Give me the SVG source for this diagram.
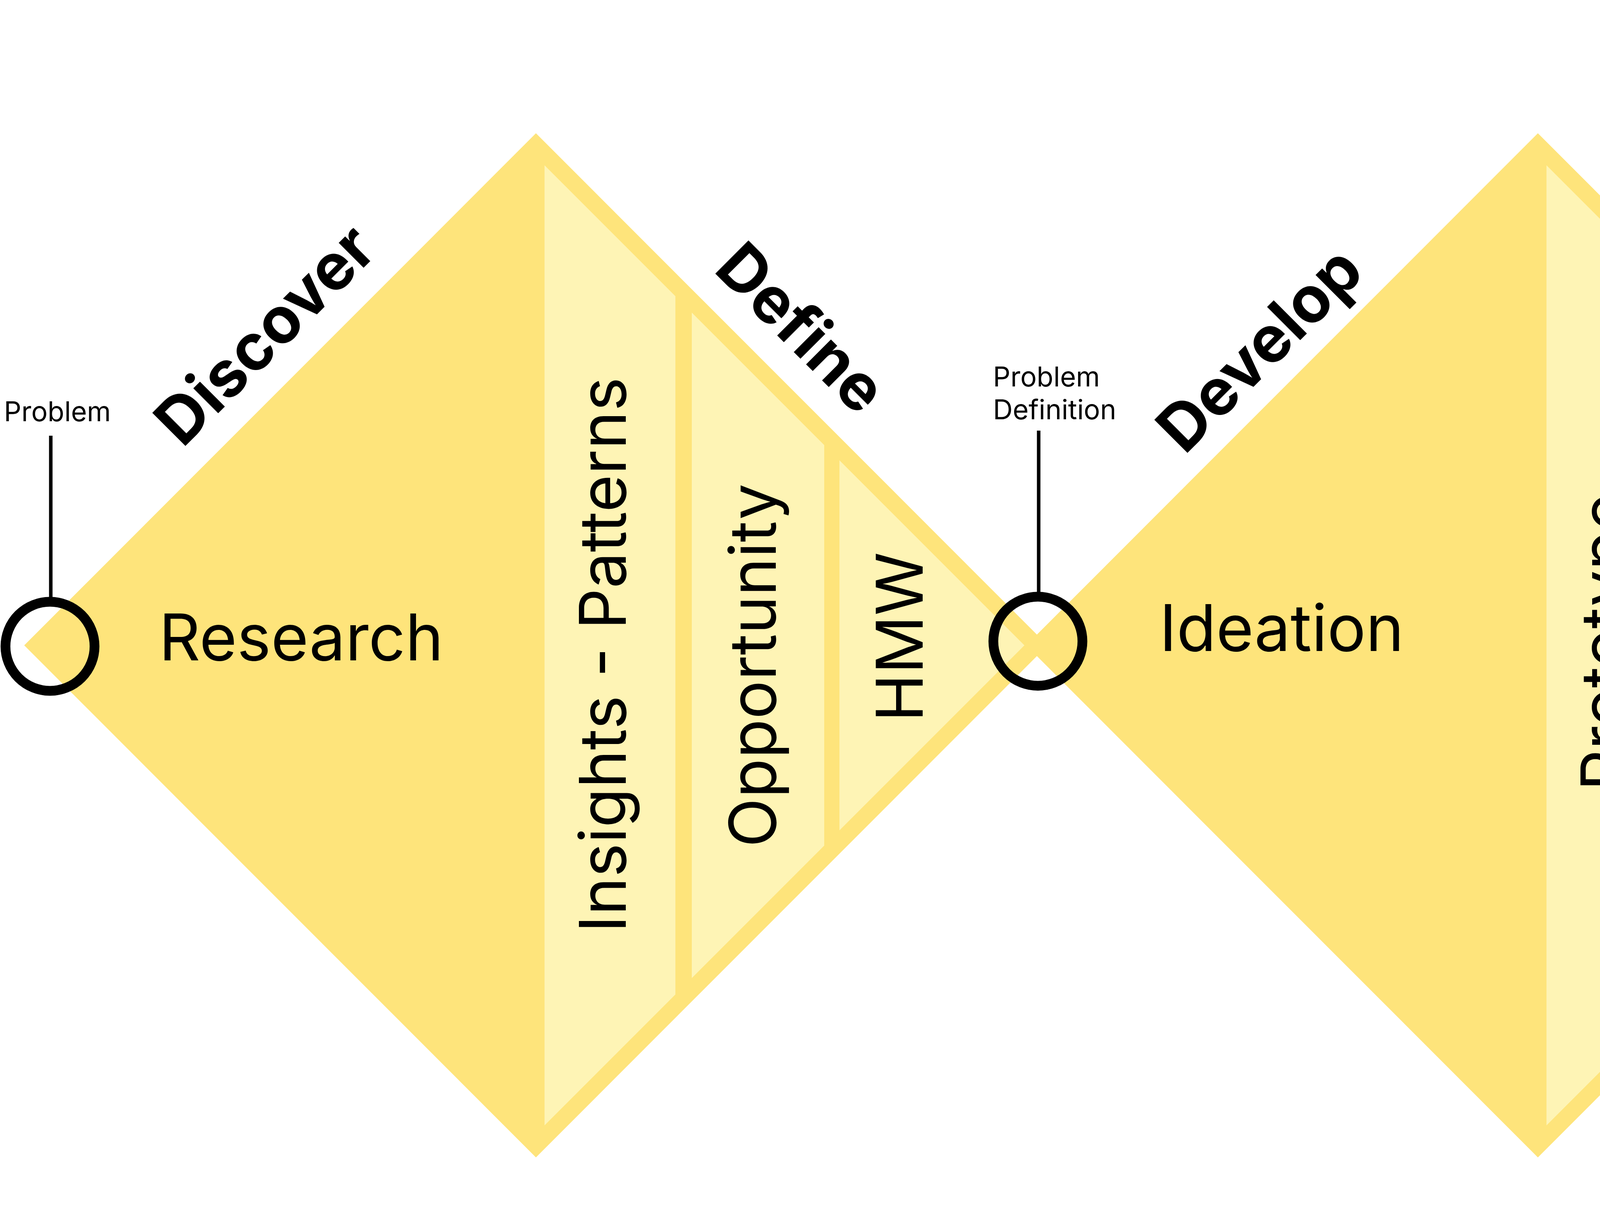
<svg xmlns="http://www.w3.org/2000/svg" width="5405" height="3094" viewBox="0 0 5405 3094">
<style>
.dark{fill:#FEE47B}
.light{fill:#FEF4B5}
.body{font-family:Inter,"Liberation Sans",sans-serif;font-size:165px;fill:#000}
.title{font-family:Inter,"Liberation Sans",sans-serif;font-size:165px;font-weight:700;fill:#000}
.small{font-family:Inter,"Liberation Sans",sans-serif;font-size:70px;fill:#000}
.ring{fill:none;stroke:#000;stroke-width:25}
.lead{stroke:#000;stroke-width:9;fill:none}
</style>
<rect width="5405" height="3094" fill="#fff"/>
<g id="diamond-left">
<polygon class="dark" points="62,1651.5 1372,341 2682,1651.5 1372,2962"/>
</g>
<g id="diamond-right">
<polygon class="dark" points="2627,1651.5 3937,341 5247,1651.5 3937,2962"/>
</g>
<g id="research">
<text class="body" x="771" y="1690" text-anchor="middle">Research</text>
</g>
<g id="insights">
<polygon class="light" points="1394,423 1729,758 1729,2545 1394,2880"/>
<text class="body" transform="translate(1602,1676) rotate(-90)" text-anchor="middle">Insights - Patterns</text>
</g>
<g id="opportunity">
<polygon class="light" points="1771,800 2110,1139 2110,2164 1771,2503"/>
<text class="body" transform="translate(1986,1703) rotate(-90)" text-anchor="middle">Opportunity</text>
</g>
<g id="hmw">
<polygon class="light" points="2149,1178 2622.5,1651.5 2149,2125"/>
<text class="body" transform="translate(2362,1630) rotate(-90)" text-anchor="middle">HMW</text>
</g>
<g id="ideation">
<text class="body" x="3281" y="1666" text-anchor="middle">Ideation</text>
</g>
<g id="prototype">
<polygon class="light" points="3959,423 4331,795 4331,2508 3959,2880"/>
<text class="body" transform="translate(4166,1643) rotate(-90)" text-anchor="middle">Prototype</text>
</g>
<g id="test">
<polygon class="light" points="4371,835 4732,1196 4732,2107 4371,2468"/>
<text class="body" transform="translate(4607,1650) rotate(-90)" text-anchor="middle">Test</text>
</g>
<g id="out">
<polygon class="light" points="4769,1233 5187.5,1651.5 4769,2070"/>
<text class="body" transform="translate(4966,1672) rotate(-90)" text-anchor="middle">Out</text>
</g>
<g id="discover">
<text class="title" transform="translate(719,897) rotate(-45)" text-anchor="middle">Discover</text>
</g>
<g id="define">
<text class="title" transform="translate(2011,880) rotate(45)" text-anchor="middle">Define</text>
</g>
<g id="develop">
<text class="title" transform="translate(3265,934) rotate(-45)" text-anchor="middle">Develop</text>
</g>
<g id="deliver">
<text class="title" transform="translate(4631,941) rotate(45)" text-anchor="middle">Deliver</text>
</g>
<g id="connectors">
<line class="lead" x1="130" y1="1115" x2="130" y2="1530"/>
<line class="lead" x1="2659" y1="1102" x2="2659" y2="1517"/>
<line class="lead" x1="5208" y1="1115" x2="5208" y2="1530"/>
</g>
<g id="problem">
<circle class="ring" cx="128" cy="1654" r="114"/>
<text class="small" x="10" y="1078">Problem</text>
</g>
<g id="problem-definition">
<circle class="ring" cx="2657" cy="1641" r="114"/>
<text class="small" x="2542" y="989">Problem</text>
<text class="small" x="2542" y="1073">Definition</text>
</g>
<g id="solution">
<circle class="ring" cx="5206" cy="1654" r="114"/>
<text class="small" x="5090" y="1080">Solution</text>
</g>
</svg>
